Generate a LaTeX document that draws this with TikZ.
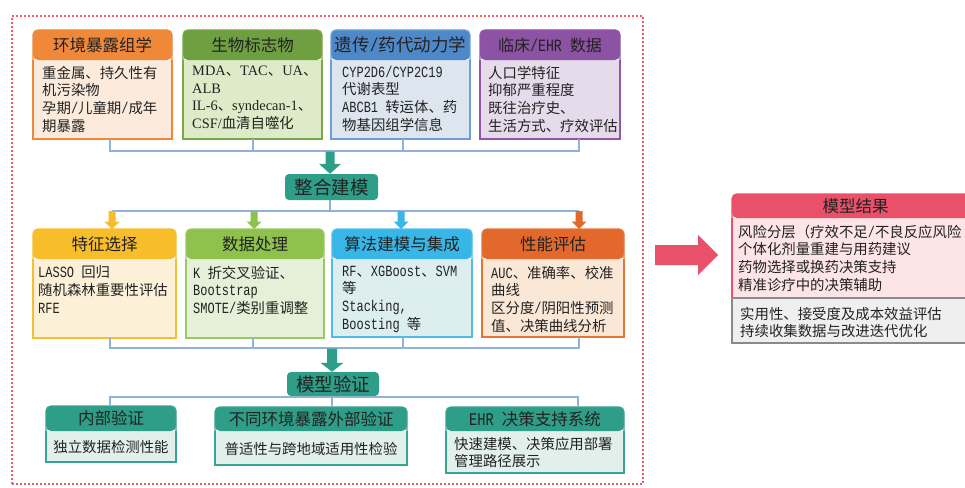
\documentclass[tikz,border=0pt]{standalone}
\usepackage{fontspec}
\setmainfont{Noto Sans CJK SC}
\newfontfamily\lmono[Scale=1.08,FakeStretch=0.77]{Liberation Mono}
\newfontfamily\lserif{Liberation Serif}
\usetikzlibrary{calc}
\newcommand\tm[1]{{\lmono #1}}
\newcommand\sr[1]{{\lserif #1}}
% colours: H header, F body fill, B border
\definecolor{oH}{HTML}{F0883A}\definecolor{oF}{HTML}{FCEBDD}\definecolor{oB}{HTML}{F0883A}
\definecolor{gH}{HTML}{6E9F41}\definecolor{gF}{HTML}{DDEBC8}\definecolor{gB}{HTML}{7BA84A}
\definecolor{bH}{HTML}{4E88C8}\definecolor{bF}{HTML}{DDE6EE}\definecolor{bB}{HTML}{6D9ED6}
\definecolor{pH}{HTML}{8C52A3}\definecolor{pF}{HTML}{E6DBEB}\definecolor{pB}{HTML}{9057A8}
\definecolor{yH}{HTML}{F8BD2A}\definecolor{yF}{HTML}{FCF1D8}\definecolor{yB}{HTML}{F6BF33}
\definecolor{lH}{HTML}{8FC24D}\definecolor{lF}{HTML}{E5F0D8}\definecolor{lB}{HTML}{9BC863}
\definecolor{cH}{HTML}{38B6E8}\definecolor{cF}{HTML}{DDEEF0}\definecolor{cB}{HTML}{4FBDE8}
\definecolor{rH}{HTML}{E2682B}\definecolor{rF}{HTML}{FBE7D6}\definecolor{rB}{HTML}{E67538}
\definecolor{tH}{HTML}{2E9E88}\definecolor{tF}{HTML}{E2F0EC}\definecolor{tB}{HTML}{3AA38F}
\definecolor{kH}{HTML}{E9506A}\definecolor{kF}{HTML}{FCE4E7}\definecolor{kB}{HTML}{E9506A}
\definecolor{sF}{HTML}{EFEFEF}\definecolor{sB}{HTML}{8A8A8A}
\definecolor{connc}{HTML}{8FB1DA}
\definecolor{framec}{HTML}{EF5A68}
\definecolor{txt}{HTML}{222222}
\tikzset{
  headtxt/.style={inner sep=0pt, text=txt, font=\fontsize{16.5}{20}\selectfont},
  bodytxt/.style={anchor=north west, inner sep=0pt, align=left, text=txt,
    font=\fontsize{14.4}{17.7}\selectfont, execute at begin node={\rule{0pt}{12.8pt}}},
  cbody/.style={inner sep=0pt, text=txt, font=\fontsize{14.4}{17.7}\selectfont},
  conn/.style={draw=connc, line width=1.3pt},
  midbox/.style={fill=tH, rounded corners=4pt, inner sep=0pt, text=txt,
    font=\fontsize{18.5}{22}\selectfont},
  frame/.style={draw=framec, line width=2pt, dash pattern=on 2pt off 2pt},
}
% card: #1 name, #2 x1, #3 y1, #4 x2, #5 y2, #6 header bottom, #7 colour prefix, #8 title
\newcommand\card[8]{%
  \fill[#7F] (#2,#6) rectangle (#4,#5);
  \fill[#7H, rounded corners=5pt] (#2,#6) -- (#2,#3) -- (#4,#3) -- (#4,#6) -- cycle;
  \draw[#7B, line width=1.4pt, rounded corners=5pt] (#2,#6) -- (#2,#3) -- (#4,#3) -- (#4,#6);
  \draw[#7B, line width=1.4pt] (#2,#6) -- (#2,#5) -- (#4,#5) -- (#4,#6);
  \node[inner sep=0pt, minimum width={(#4-#2)*1pt}, minimum height={(#5-#3)*1pt}, anchor=north west] (#1) at (#2,#3) {};
  \node[headtxt] (#1-t) at ({(#2+#4)/2},{(#3+#6)/2}) {#8};
}
% vertical block arrow: #1 from, #2 to, #3 shaft half, #4 head half, #5 head length, #6 colour
\newcommand\varrow[6]{%
  \fill[#6] let \p1=(#1), \p2=(#2) in
    (\x1-#3,\y1) -- (\x1-#3,\y2+#5) -- (\x1-#4,\y2+#5) -- (\x1,\y2)
    -- (\x1+#4,\y2+#5) -- (\x1+#3,\y2+#5) -- (\x1+#3,\y1) -- cycle;
}
\newcommand\harrow[6]{%
  \fill[#6] let \p1=(#1), \p2=(#2) in
    (\x1,\y1-#3) -- (\x2-#5,\y1-#3) -- (\x2-#5,\y1-#4) -- (\x2,\y1)
    -- (\x2-#5,\y1+#4) -- (\x2-#5,\y1+#3) -- (\x1,\y1+#3) -- cycle;
}
\begin{document}
\begin{tikzpicture}[x=1pt,y=-1pt]
\useasboundingbox (0,0) rectangle (965,487);
\clip (0,0) rectangle (965,487);
\fill[white] (0,0) rectangle (965,487);

% outer dotted frame
\node[frame, inner sep=0pt, minimum width=631pt, minimum height=468pt, anchor=north west] (frame) at (11,15) {};

% ---------- row 1 ----------
\card{c1}{33}{30}{172}{139}{60}{o}{环境暴露组学}
\card{c2}{183}{30}{322}{139}{60}{g}{生物标志物}
\card{c3}{331}{30}{470}{139}{60}{b}{\fontsize{17.5}{21}\selectfont 遗传\tm{/}药代动力学}
\card{c4}{480}{30}{620}{139}{60}{p}{\fontsize{16}{20}\selectfont 临床\tm{/EHR }数据}

\node[bodytxt] (c1-b) at (42,65.6) {重金属、持久性有\\机污染物\\孕期\tm{/}儿童期\tm{/}成年\\期暴露};
\node[bodytxt] (c2-b) at (192,65.6) {\sr{MDA}、\sr{TAC}、\sr{UA}、\\\sr{ALB}\\\sr{IL-6}、\sr{syndecan-1}、\\\sr{CSF/}血清自噬化};
\node[bodytxt] (c3-b) at (342,65.6) {\tm{CYP2D6/CYP2C19}\\代谢表型\\\tm{ABCB1 }转运体、药\\物基因组学信息};
\node[bodytxt] (c4-b) at (488,65.6) {人口学特征\\抑郁严重程度\\既往治疗史、\\生活方式、疗效评估};

% bracket under row 1
\coordinate (t1) at (110,151);
\coordinate (t2) at (253,151);
\coordinate (t3) at (403,151);
\coordinate (t4) at (579,151);
\draw[conn] (c1.south -| t1) -- (t1) -- (t4) -- (c4.south -| t4);
\draw[conn] (c2.south -| t2) -- (t2);
\draw[conn] (c3.south -| t3) -- (t3);

% integration node
\node[midbox, minimum width=93pt, minimum height=26pt] (zh) at (331.5,187) {整合建模};
\coordinate (za) at (330,151.5);
\varrow{za}{zh.north -| za}{4.5pt}{11pt}{10pt}{tH}
\coordinate (zb) at (330,211);
\draw[conn] (zh.south -| zb) -- (zb);

% ---------- row 2 ----------
\card{c5}{33}{229}{176}{338}{259}{y}{特征选择}
\card{c6}{186}{229}{324}{338}{259}{l}{数据处理}
\card{c7}{332}{229}{472}{337}{259}{c}{算法建模与集成}
\card{c8}{482}{229}{624}{337}{259}{r}{性能评估}

\coordinate (m1) at (112,211);
\coordinate (m2) at (254,211);
\coordinate (m3) at (401,211);
\coordinate (m4) at (579,211);
\draw[conn] (m1) -- (m4);
\varrow{m1}{c5.north -| m1}{3.5pt}{7.5pt}{7.5pt}{yH}
\varrow{m2}{c6.north -| m2}{3.5pt}{7.5pt}{7.5pt}{lH}
\varrow{m3}{c7.north -| m3}{3.5pt}{7.5pt}{7.5pt}{cH}
\varrow{m4}{c8.north -| m4}{3.5pt}{7.5pt}{7.5pt}{rH}

\node[bodytxt] (c5-b) at (38,265.6) {\tm{LASSO }回归\\随机森林重要性评估\\\tm{RFE}};
\node[bodytxt] (c6-b) at (193,265.6) {\tm{K }折交叉验证、\\\tm{Bootstrap}\\\tm{SMOTE/}类别重调整};
\node[bodytxt] (c7-b) at (342,265.6) {\tm{RF}、\tm{XGBoost}、\tm{SVM}\\等\\\tm{Stacking,}\\\tm{Boosting }等};
\node[bodytxt] (c8-b) at (491,265.6) {\tm{AUC}、准确率、校准\\曲线\\区分度\tm{/}阴阳性预测\\值、决策曲线分析};

% bracket under row 2
\coordinate (b1) at (110,348);
\coordinate (b2) at (253,348);
\coordinate (b3) at (403,348);
\coordinate (b4) at (579,348);
\draw[conn] (c5.south -| b1) -- (b1) -- (b4) -- (c8.south -| b4);
\draw[conn] (c6.south -| b2) -- (b2);
\draw[conn] (c7.south -| b3) -- (b3);

% validation node
\node[midbox, minimum width=92pt, minimum height=24pt] (mv) at (333,384) {模型验证};
\coordinate (va) at (332,348.5);
\varrow{va}{mv.north -| va}{5pt}{11.5pt}{9pt}{tH}

% ---------- row 3 ----------
\card{c9}{46}{406}{176}{462}{431}{t}{内部验证}
\card{c10}{215}{407}{407}{465}{431}{t}{不同环境暴露外部验证}
\card{c11}{446}{407}{624}{473}{431}{t}{\tm{EHR }决策支持系统}

\coordinate (v1) at (110,397);
\coordinate (v2) at (332,397);
\coordinate (v3) at (578,397);
\draw[conn] (c9.north -| v1) -- (v1) -- (v3) -- (c11.north -| v3);
\draw[conn] (mv.south -| v2) -- (c10.north -| v2);

\node[cbody] (c9-b) at (111,447) {独立数据检测性能};
\node[cbody] (c10-b) at (311,449) {普适性与跨地域适用性检验};
\node[bodytxt] (c11-b) at (454,436.6) {快速建模、决策应用部署\\管理路径展示};

% ---------- result ----------
\coordinate (ba) at (655,255);
\coordinate (bb) at (718,255);
\harrow{ba}{bb}{10pt}{20pt}{20pt}{kH}

\card{res}{732}{194}{979}{298}{218}{k}{模型结果}
\fill[sF] (732,298) rectangle (979,343);
\draw[sB, line width=1.4pt] (732,298) rectangle (979,343);
\node[inner sep=0pt, minimum width=247pt, minimum height=45pt, anchor=north west] (res2) at (732,298) {};
\node[bodytxt] (res-b) at (738,224.6) {风险分层（疗效不足\tm{/}不良反应风险\\个体化剂量重建与用药建议\\药物选择或换药决策支持\\精准诊疗中的决策辅助};
\node[bodytxt] (res2-b) at (740,306.6) {实用性、接受度及成本效益评估\\持续收集数据与改进迭代优化};
\end{tikzpicture}
\end{document}
